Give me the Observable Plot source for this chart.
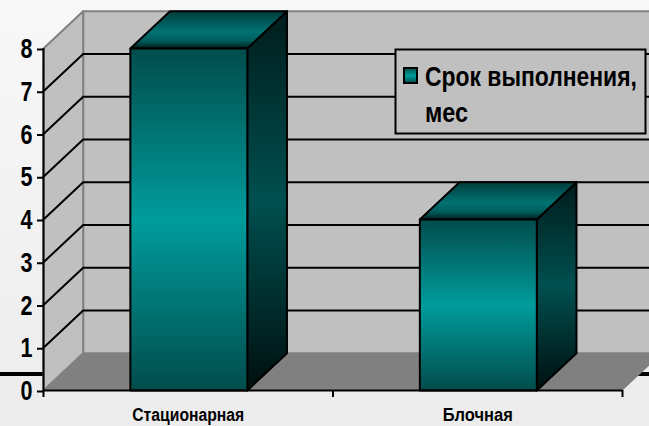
<!DOCTYPE html>
<html><head><meta charset="utf-8">
<script src="https://cdn.jsdelivr.net/npm/d3@7"></script>
<script src="https://cdn.jsdelivr.net/npm/@observablehq/plot@0.6"></script>
<style>
html,body{margin:0;padding:0;width:649px;height:426px;overflow:hidden;background:linear-gradient(#f8f8f8,#ececec);}
#rule{position:absolute;left:0;top:372px;width:649px;height:4px;background:#000;}
#chart{position:absolute;left:0;top:0;}
</style></head><body><div id="rule"></div><div id="chart"></div>
<script>
const categories = ["Стационарная", "Блочная"];
const values = [8, 4];
const seriesName = ["Срок выполнения,", "мес"];
const yTicks = [0, 1, 2, 3, 4, 5, 6, 7, 8];
const font = "'Liberation Sans',Arial,sans-serif";

const yMax = 8, nCat = categories.length;
const depthX = 0.137, depthY = 0.87;
const barStart = 0.3, barW = 0.404;
const fit = {"Стационарная": 112, "Блочная": 70};
const legendFit = [212, 43];

function grad(id, stops) {
  const g = d3.create("svg:linearGradient").attr("id", id).attr("x1", 0).attr("x2", 0).attr("y1", 0).attr("y2", 1);
  stops.forEach(([o, c]) => g.append("stop").attr("offset", o).attr("stop-color", c));
  return g.node();
}
const defs = () => {
  const d = d3.create("svg:defs");
  d.node().append(
    grad("front", [[0, "#024c4c"], [0.5, "#009c9c"], [1, "#024c4c"]]),
    grad("side", [[0, "#011c1c"], [0.5, "#004f4f"], [1, "#000f0f"]]),
    grad("top", [[0, "#003c3c"], [0.55, "#007272"], [0.8, "#005c5c"], [1, "#001c1c"]]),
    grad("swatch", [[0, "#024c4c"], [0.5, "#009c9c"], [1, "#024c4c"]])
  );
  return d.node();
};
const poly = (pts, o) => Plot.line(pts, {x: d => d[0], y: d => d[1], curve: "linear-closed", ...o});

const bars = values.flatMap((v, i) => {
  const a = i + barStart, b = a + barW;
  const s = {stroke: "#000", strokeWidth: 2, strokeLinejoin: "round"};
  return [
    poly([[b, 0], [b + depthX, depthY], [b + depthX, v + depthY], [b, v]], {fill: "url(#side)", ...s}),
    poly([[a, v], [b, v], [b + depthX, v + depthY], [a + depthX, v + depthY]], {fill: "url(#top)", ...s}),
    poly([[a, 0], [b, 0], [b, v], [a, v]], {fill: "url(#front)", ...s})
  ];
});

const legend = () => {
  const g = d3.create("svg:g");
  g.append("rect").attr("x", 395.5).attr("y", 49.5).attr("width", 250).attr("height", 84).attr("fill", "#c0c0c0").attr("stroke", "#000").attr("stroke-width", 2);
  g.append("rect").attr("x", 404).attr("y", 68).attr("width", 13).attr("height", 15).attr("fill", "url(#swatch)").attr("stroke", "#000").attr("stroke-width", 2);
  const t = g.append("g").attr("class", "legend-text").attr("font-family", font).attr("font-weight", "bold").attr("font-size", 28).attr("fill", "#000").attr("text-anchor", "start");
  t.append("text").attr("data-x", 425).attr("data-y", 86).text(seriesName[0]);
  t.append("text").attr("data-x", 425).attr("data-y", 122).text(seriesName[1]);
  return g.node();
};

const gridY = yTicks.filter(v => v > 0 && v < yMax);

const chart = Plot.plot({
  width: 649, height: 426,
  marginLeft: 43, marginRight: 27, marginTop: 48, marginBottom: 36,
  style: {background: "transparent", fontFamily: font},
  x: {type: "linear", domain: [0, nCat], range: [43, 622]},
  y: {domain: [0, yMax], range: [390, 48]},
  marks: [
    defs,
    poly([[depthX, depthY], [nCat + depthX, depthY], [nCat + depthX, yMax + depthY], [depthX, yMax + depthY]], {fill: "#c0c0c0", stroke: "#808080", strokeWidth: 2}),
    poly([[0, 0], [depthX, depthY], [depthX, yMax + depthY], [0, yMax]], {fill: "#c0c0c0", stroke: "#808080", strokeWidth: 2}),
    poly([[0, 0], [nCat, 0], [nCat + depthX, depthY], [depthX, depthY]], {fill: "#808080"}),
    ...gridY.map(v => Plot.line([[0, v], [depthX, v + depthY], [nCat + depthX, v + depthY]], {x: d => d[0], y: d => d[1], stroke: "#000", strokeWidth: 2})),
    ...bars,
    Plot.ruleX([0], {y1: 0, y2: yMax, stroke: "#000", strokeWidth: 2}),
    Plot.ruleY([0], {x1: 0, x2: nCat, stroke: "#000", strokeWidth: 2}),
    Plot.axisY({ticks: yTicks, tickSize: 6, strokeWidth: 2, stroke: "#000", tickPadding: 5, dy: 1, fontSize: 27, fontWeight: "bold", fill: "#000", label: null, tickFormat: d => d}),
    Plot.axisX({ticks: d3.range(nCat + 1), tickSize: 7, strokeWidth: 2, stroke: "#000", tickFormat: () => "", label: null}),
    Plot.axisX({ticks: categories.map((_, i) => i + 0.5), tickSize: 0, tickPadding: 18, fontSize: 18, fontWeight: "bold", fill: "#000", label: null, tickFormat: d => categories[Math.floor(d)]}),
    legend
  ]
});
document.getElementById("chart").append(chart);
chart.querySelectorAll("text").forEach(t => {
  const s = t.textContent;
  const w = fit[s] ?? (/^\d$/.test(s) ? 12 : null);
  if (w) { t.setAttribute("textLength", w); t.setAttribute("lengthAdjust", "spacingAndGlyphs"); }
});
chart.querySelectorAll(".legend-text text").forEach((t, i) => {
  const k = legendFit[i] / t.getComputedTextLength();
  t.setAttribute("transform", `translate(${t.dataset.x},${t.dataset.y}) scale(${k},1)`);
});
</script></body></html>
